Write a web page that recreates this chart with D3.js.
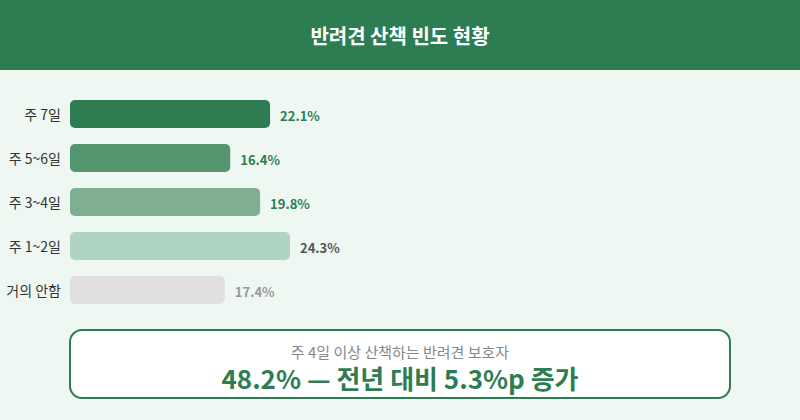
<!DOCTYPE html>
<html><head><meta charset="utf-8">
<script src="https://cdn.jsdelivr.net/npm/d3@7"></script>
<style>
html,body{margin:0;padding:0;background:#eef7f2;}
svg{display:block;font-family:"Noto Sans CJK KR","Noto Sans",sans-serif;}
</style></head>
<body><svg id="c" width="800" height="420"></svg>
<script>
const title = "반려견 산책 빈도 현황";
const categories = ["주 7일", "주 5~6일", "주 3~4일", "주 1~2일", "거의 안함"];
const values = [22.1, 16.4, 19.8, 24.3, 17.4];
// bar lengths as drawn in the reference (percentage units)
const barLengths = [22.1, 17.7, 21.0, 24.3, 17.1];
const barColors = ["#2e7d52", "#52956e", "#7fae93", "#b0d4c4", "#e0e0e0"];
const labelColors = ["#2e7d52", "#2e7d52", "#2e7d52", "#555555", "#999999"];
const calloutSub = "주 4일 이상 산책하는 반려견 보호자";
const calloutMain = "48.2% — 전년 대비 5.3%p 증가";

const svg = d3.select("#c");
const W = 800, H = 420;
svg.append("rect").attr("width", W).attr("height", H).attr("fill", "#eef7f2");
svg.append("rect").attr("width", W).attr("height", 70).attr("fill", "#2e7d52");
svg.append("text").attr("x", W/2).attr("y", 35).attr("text-anchor", "middle")
  .attr("dominant-baseline", "central").attr("fill", "#fff")
  .attr("font-size", 20).attr("font-weight", 700).text(title);

const x = d3.scaleLinear().domain([0, 24.3]).range([70, 290]);
const y = d3.scaleBand().domain(categories).range([100, 100 + 44*5 - 16]).paddingInner(16/44).paddingOuter(0);

const g = svg.append("g");
g.selectAll("rect.bar").data(categories).join("rect")
  .attr("class", "bar")
  .attr("x", x(0)).attr("y", d => y(d))
  .attr("width", (d, i) => x(barLengths[i]) - x(0))
  .attr("height", y.bandwidth()).attr("rx", 5)
  .attr("fill", (d, i) => barColors[i]);

g.selectAll("text.cat").data(categories).join("text")
  .attr("class", "cat")
  .attr("x", 61).attr("y", d => y(d) + y.bandwidth()/2)
  .attr("text-anchor", "end").attr("dominant-baseline", "central")
  .attr("font-size", 14).attr("fill", "#333").text(d => d);

g.selectAll("text.val").data(categories).join("text")
  .attr("class", "val")
  .attr("x", (d, i) => x(barLengths[i]) + 10).attr("y", d => y(d) + y.bandwidth()/2 + 1)
  .attr("dominant-baseline", "central")
  .attr("font-size", 13).attr("font-weight", 700)
  .attr("fill", (d, i) => labelColors[i])
  .text((d, i) => values[i].toFixed(1) + "%");

svg.append("rect").attr("x", 70).attr("y", 330).attr("width", 660).attr("height", 68)
  .attr("rx", 12).attr("fill", "#fff").attr("stroke", "#2e7d52").attr("stroke-width", 2);
svg.append("text").attr("x", 400).attr("y", 358).attr("text-anchor", "middle")
  .attr("font-size", 15).attr("fill", "#888").text(calloutSub);
svg.append("text").attr("x", 400).attr("y", 389).attr("text-anchor", "middle")
  .attr("font-size", 26).attr("font-weight", 700)
  .attr("fill", "#2e7d52").text(calloutMain);
</script></body></html>
